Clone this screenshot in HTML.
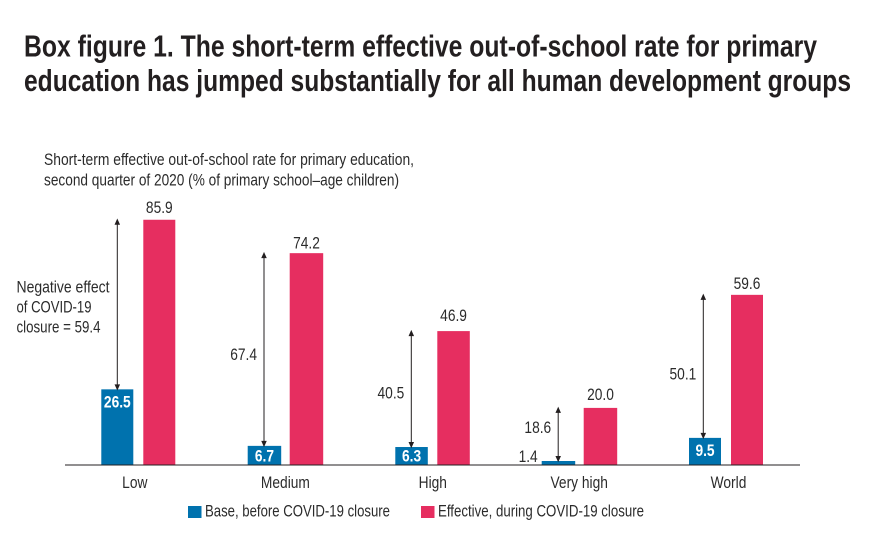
<!DOCTYPE html>
<html lang="en">
<head>
<meta charset="utf-8">
<title>Box figure 1</title>
<style>
html,body{margin:0;padding:0;background:#fff;}
svg{display:block;}
text{font-family:"Liberation Sans",sans-serif;fill:#2b2b2b;}
</style>
</head>
<body>
<svg id="chart" xmlns="http://www.w3.org/2000/svg" width="873" height="549" viewBox="0 0 873 549">
  <rect x="0" y="0" width="873" height="549" fill="#ffffff"/>
  <text x="24" y="56.5" font-size="31" font-weight="700" textLength="793" lengthAdjust="spacingAndGlyphs" style="fill:#231f20">Box figure 1. The short-term effective out-of-school rate for primary</text>
  <text x="24" y="91" font-size="31" font-weight="700" textLength="827" lengthAdjust="spacingAndGlyphs" style="fill:#231f20">education has jumped substantially for all human development groups</text>
  <text x="44" y="165" font-size="17" textLength="370" lengthAdjust="spacingAndGlyphs">Short-term effective out-of-school rate for primary education,</text>
  <text x="44" y="185.5" font-size="17" textLength="355" lengthAdjust="spacingAndGlyphs">second quarter of 2020 (% of primary school–age children)</text>
  <text x="16.5" y="292.5" font-size="17" textLength="93" lengthAdjust="spacingAndGlyphs">Negative effect</text>
  <text x="16.5" y="312.5" font-size="17" textLength="75" lengthAdjust="spacingAndGlyphs">of COVID-19</text>
  <text x="16.5" y="332.5" font-size="17" textLength="84" lengthAdjust="spacingAndGlyphs">closure = 59.4</text>
  <g id="plot"></g>
  <rect x="188" y="506" width="13.5" height="12" fill="#0072ae"/>
  <text x="205" y="516.5" font-size="17" textLength="185" lengthAdjust="spacingAndGlyphs">Base, before COVID-19 closure</text>
  <rect x="421" y="506" width="13.5" height="12" fill="#e62e60"/>
  <text x="438" y="516.5" font-size="17" textLength="206" lengthAdjust="spacingAndGlyphs">Effective, during COVID-19 closure</text>
</svg>
<script>
const categories = ["Low", "Medium", "High", "Very high", "World"];
const baseValues = [26.5, 6.7, 6.3, 1.4, 9.5];
const effectiveValues = [85.9, 74.2, 46.9, 20.0, 59.6];
const effectLabels = [null, "67.4", "40.5", "18.6", "50.1"];

const NS = "http://www.w3.org/2000/svg";
const plot = document.getElementById("plot");
const BASELINE = 465;
const PX_PER_UNIT = 2.855;
const AXIS_LEFT = 65;
const AXIS_RIGHT = 800;
const BAND = 147;
const y = function (v) { return BASELINE - v * PX_PER_UNIT; };
const bandLeft = function (i) { return AXIS_LEFT + 36.5 + BAND * i; };

/* hand-placement offsets of the original layout */
const groupNudge = [-0.2, -0.8, -0.2, -0.8, -0.5];
const barWidths = [32, 33.5, 32.5, 33.5, 32];
const arrowNudge = [0, 0.3, 0, 0.5, -1.7];
const categoryCentreNudge = [-4, 0.2, 0, 0, 2];
const topLabelGap = [6.7, 4.6, 10, 8, 5.7];
const effectLabelDy = [0, 10.5, 9.5, -1.5, 13];
const TEXT_SQUEEZE = 0.81;

function addText(str, tx, ty, anchor, size, weight, fill) {
  const t = document.createElementNS(NS, "text");
  t.setAttribute("transform", "translate(" + tx + " " + ty + ") scale(" + TEXT_SQUEEZE + " 1)");
  t.setAttribute("text-anchor", anchor);
  t.setAttribute("font-size", size);
  if (weight) t.setAttribute("font-weight", weight);
  if (fill) t.style.fill = fill;
  t.textContent = str;
  plot.appendChild(t);
  return t;
}

function addRect(rx, ry, rw, rh, fill) {
  const r = document.createElementNS(NS, "rect");
  r.setAttribute("x", rx);
  r.setAttribute("y", ry);
  r.setAttribute("width", rw);
  r.setAttribute("height", rh);
  r.setAttribute("fill", fill);
  plot.appendChild(r);
  return r;
}

categories.forEach(function (cat, i) {
  const slug = cat.toLowerCase().replace(/\s+/g, "-");
  const left = bandLeft(i) + groupNudge[i];
  const w = barWidths[i];
  const redLeft = left + 42;
  const baseTop = y(baseValues[i]);
  const effTop = y(effectiveValues[i]);

  const baseBar = addRect(left, baseTop, w, BASELINE - baseTop, "#0072ae");
  
  

  const effBar = addRect(redLeft, effTop, w, BASELINE - effTop, "#e62e60");
  
  

  const valueLabel = addText(effectiveValues[i].toFixed(1), redLeft + w / 2, effTop - topLabelGap[i], "middle", 17);
  
  

  let baseLabel;
  if (BASELINE - baseTop > 12) {
    const by = Math.min(baseTop + 18, BASELINE - 3.5);
    baseLabel = addText(baseValues[i].toFixed(1), left + w / 2, by, "middle", 17, "700", "#ffffff");
  } else {
    baseLabel = addText(baseValues[i].toFixed(1), left - 4, BASELINE - 3, "end", 17);
  }
  
  

  const ax = left + 16 + arrowNudge[i];
  const arrow = document.createElementNS(NS, "path");
  arrow.setAttribute("d",
    "M" + ax + " " + (effTop + 2) + "V" + (baseTop - 2) +
    "M" + ax + " " + effTop + "l-2 4.5h4z" +
    "M" + ax + " " + baseTop + "l-2 -4.5h4z");
  arrow.setAttribute("stroke", "#231f20");
  arrow.setAttribute("stroke-width", "1");
  arrow.setAttribute("fill", "#231f20");
  
  
  plot.appendChild(arrow);

  if (effectLabels[i]) {
    const eff = addText(effectLabels[i], ax - 7, (effTop + baseTop) / 2 + effectLabelDy[i], "end", 17);
    
    
  }

  const catLabel = addText(cat, left + 37.5 + categoryCentreNudge[i], 488, "middle", 17);
  
  
});

const axis = document.createElementNS(NS, "line");
axis.setAttribute("x1", AXIS_LEFT);
axis.setAttribute("x2", AXIS_RIGHT);
axis.setAttribute("y1", BASELINE);
axis.setAttribute("y2", BASELINE);
axis.setAttribute("stroke", "#231f20");
axis.setAttribute("stroke-width", "1");


plot.appendChild(axis);
</script>
</body>
</html>
